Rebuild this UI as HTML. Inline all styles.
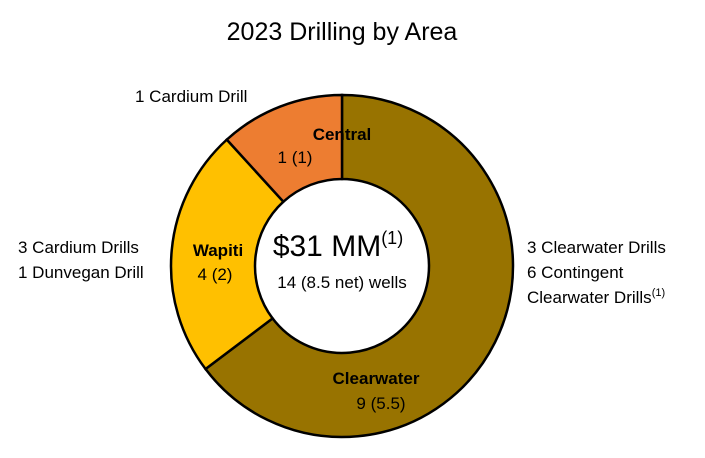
<!DOCTYPE html>
<html><head><meta charset="utf-8"><style>
body{margin:0;background:#fff;width:705px;height:453px;overflow:hidden;font-family:"Liberation Sans",sans-serif}
</style></head><body>
<svg width="705" height="453">
<text x="342" y="40" text-anchor="middle" font-size="25" fill="#000">2023 Drilling by Area</text>
<g id="slices"></g>
<g id="labels" font-size="17" fill="#000">
<text x="342" y="140" text-anchor="middle" font-weight="bold" font-size="17">Central</text>
<text x="310" y="165" text-anchor="middle" font-size="0"></text>
<text x="218" y="256" text-anchor="middle" font-weight="bold">Wapiti</text>
<text x="376" y="384" text-anchor="middle" font-weight="bold">Clearwater</text>
</g>
<g id="values" font-size="17" fill="#000">
<text x="295" y="163" text-anchor="middle">1 (1)</text>
<text x="215" y="280" text-anchor="middle">4 (2)</text>
<text x="381" y="409" text-anchor="middle">9 (5.5)</text>
</g>
<text x="338" y="256" text-anchor="middle" font-size="30">$31 MM<tspan font-size="18" dy="-12">(1)</tspan></text>
<text x="342" y="288" text-anchor="middle" font-size="17">14 (8.5 net) wells</text>
<text x="135" y="102" font-size="17">1 Cardium Drill</text>
<text x="18" y="253" font-size="17">3 Cardium Drills</text>
<text x="18" y="278" font-size="17">1 Dunvegan Drill</text>
<text x="527" y="253" font-size="17">3 Clearwater Drills</text>
<text x="527" y="278" font-size="17">6 Contingent</text>
<text x="527" y="303" font-size="17">Clearwater Drills<tspan font-size="11" dy="-7">(1)</tspan></text>
</svg>
<script>
const categories=["Clearwater","Wapiti","Central"];
const netWells=[5.5,2,1];
const colors=["#987300","#FFC000","#ED7D31"];
const cx=342,cy=266,R=171,r=87;
const g=document.getElementById('slices');
const total=netWells.reduce((a,b)=>a+b,0);
let a0=0;
function pt(rad,a){return [cx+rad*Math.sin(a),cy-rad*Math.cos(a)];}
netWells.forEach((v,i)=>{
  const a1=a0+v/total*2*Math.PI;
  const large=(a1-a0)>Math.PI?1:0;
  const [x1,y1]=pt(R,a0),[x2,y2]=pt(R,a1),[x3,y3]=pt(r,a1),[x4,y4]=pt(r,a0);
  const p=document.createElementNS('http://www.w3.org/2000/svg','path');
  p.setAttribute('d',`M${x1},${y1}A${R},${R} 0 ${large} 1 ${x2},${y2}L${x3},${y3}A${r},${r} 0 ${large} 0 ${x4},${y4}Z`);
  p.setAttribute('fill',colors[i]);
  p.setAttribute('stroke','#000');
  p.setAttribute('stroke-width','2.5');
  
  
  g.appendChild(p);
  a0=a1;
});
</script>
</body></html>
